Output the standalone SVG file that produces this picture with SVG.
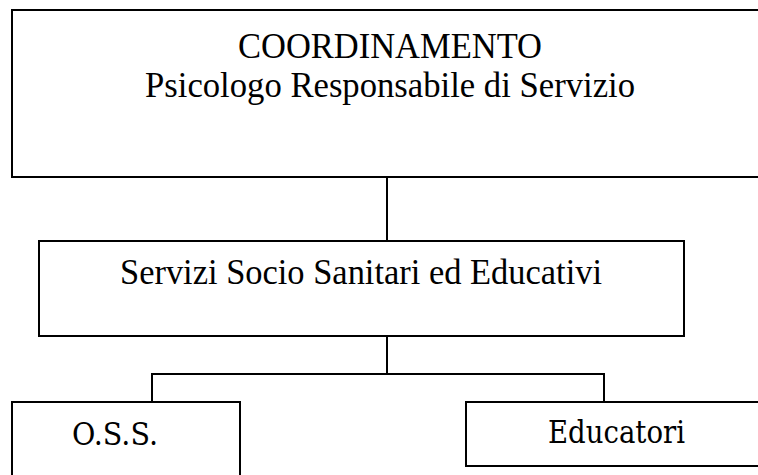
<svg xmlns="http://www.w3.org/2000/svg" width="758" height="475" viewBox="0 0 758 475">
<style>
.box{fill:#fff;stroke:#000;stroke-width:2}
.ln{fill:none;stroke:#000;stroke-width:2}
text{font-family:"Liberation Serif","Times New Roman",serif;font-size:36px;fill:#000}
text.g{font-family:"DejaVu Serif",Georgia,serif;font-size:31px}
</style>
<rect width="758" height="475" fill="#fff"/>
<g id="connectors">
<line class="ln" x1="387" y1="177" x2="387" y2="241"/>
<line class="ln" x1="387" y1="336" x2="387" y2="375"/>
<polyline class="ln" points="152,402 152,374 604,374 604,402"/>
</g>
<g id="coordinamento">
<rect class="box" x="12" y="10" width="760" height="167"/>
<text x="238" y="58" textLength="304" lengthAdjust="spacingAndGlyphs">COORDINAMENTO</text>
<text x="145" y="97" textLength="490" lengthAdjust="spacingAndGlyphs">Psicologo Responsabile di Servizio</text>
</g>
<g id="servizi">
<rect class="box" x="39" y="241" width="645" height="95"/>
<text x="120" y="284" textLength="482" lengthAdjust="spacingAndGlyphs">Servizi Socio Sanitari ed Educativi</text>
</g>
<g id="oss">
<rect class="box" x="12" y="402" width="228" height="90"/>
<text class="g" x="72" y="445" textLength="86" lengthAdjust="spacingAndGlyphs">O.S.S.</text>
</g>
<g id="educatori">
<rect class="box" x="466" y="402" width="300" height="64"/>
<text class="g" x="548" y="443" textLength="137" lengthAdjust="spacingAndGlyphs">Educatori</text>
</g>
</svg>
